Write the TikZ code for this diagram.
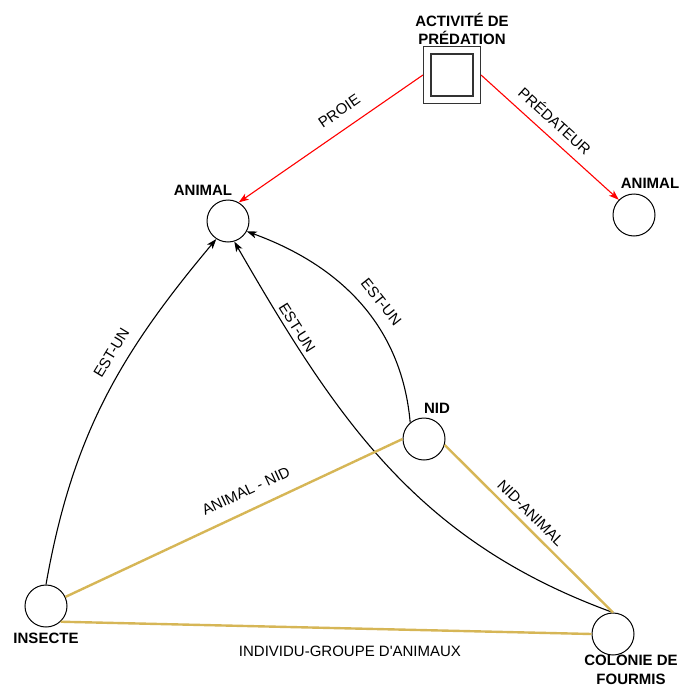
\documentclass[tikz,border=0pt]{standalone}
\usepackage{fontspec}
\setmainfont{Liberation Sans}
\usetikzlibrary{arrows.meta}

\definecolor{relgold}{HTML}{D6B656}
\definecolor{predred}{HTML}{FF0000}

\begin{document}
\begin{tikzpicture}[
  x=1pt,y=1pt,
  font=\fontsize{15}{18.5}\selectfont,
  ent/.style={circle,draw,line width=1pt,minimum size=42pt,inner sep=0pt},
  sq/.style={rectangle,draw=black!80,line width=1.1pt,inner sep=0pt},
  lbl/.style={font=\fontsize{15}{18.5}\selectfont\bfseries,align=center,inner sep=1pt},
  arr/.style={-{Stealth[length=10pt,width=7pt,inset=2.5pt]},line width=1.1pt},
  rel/.style={line width=2.4pt,draw=relgold},
  elbl/.style={sloped,inner sep=1pt,text=black},
]
\path[use as bounding box] (0,0) rectangle (678,-688);

% predation activity (double square)
\node[sq,minimum size=57pt] (act) at (452,-75) {};
\node[sq,minimum size=42pt] (actin) at (452,-75) {};
\node[lbl] (actlbl) at (462,-29) {ACTIVITÉ DE\\PRÉDATION};

% entities
\node[ent] (an1) at (228,-221) {};
\node[ent] (an2) at (634,-215) {};
\node[ent] (nid) at (424,-439) {};
\node[ent] (ins) at (46,-606) {};
\node[ent] (col) at (613,-634) {};

\node[lbl] (an1lbl) at (203,-190) {ANIMAL};
\node[lbl] (an2lbl) at (650,-183) {ANIMAL};
\node[lbl] (nidlbl) at (437,-408) {NID};
\node[lbl] (inslbl) at (46,-638) {INSECTE};
\node[lbl] (collbl) at (631,-670) {COLONIE DE\\FOURMIS};

% roles of the activity
\draw[arr,predred] (act.west) -- node[elbl,above=11pt,pos=0.4] (proie) {PROIE} (an1.60);
\draw[arr,predred] (act.east) -- node[elbl,above=8pt,pos=0.46] (pred) {PRÉDATEUR} (an2.135);

% is-a links
\draw[arr] (ins.north) to[out=80,in=230]
  node[elbl,above=10pt,pos=0.62] (estun1) {EST-UN} (an1.237);
\draw[arr] (col.north) to[out=160,in=-60]
  node[elbl,above=3pt,pos=0.82] (estun2) {EST-UN} (an1.287);
\draw[arr] (nid.130) to[out=95,in=-20]
  node[elbl,above=10pt,pos=0.45] (estun3) {EST-UN} (an1.331);

% relations
\draw[rel] (ins) -- node[elbl,above=12pt,pos=0.56] (anid) {ANIMAL - NID} (nid.west);
\draw[rel] (nid.-16) -- node[elbl,above=5pt,pos=0.46] (nidan) {NID-ANIMAL} (col.north);
\draw[rel] (ins.-47) -- node[below=13pt,pos=0.545] (indgr) {INDIVIDU-GROUPE D\textquotesingle ANIMAUX} (col.west);
\end{tikzpicture}
\end{document}
